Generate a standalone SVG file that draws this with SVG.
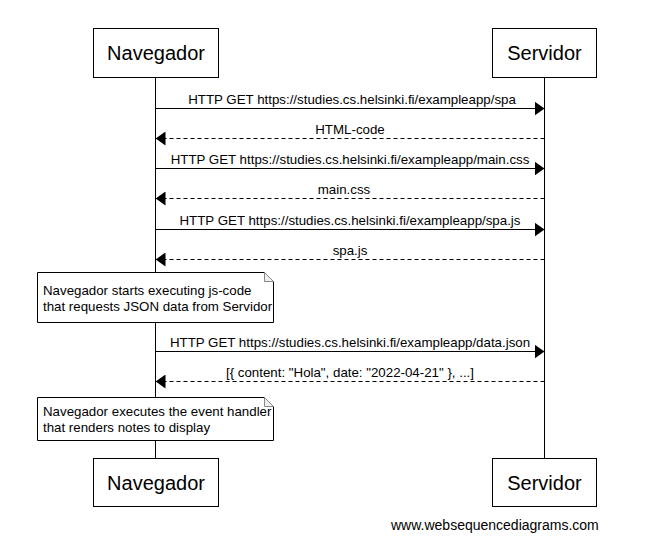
<svg xmlns="http://www.w3.org/2000/svg" width="654" height="556" viewBox="0 0 654 556">
<defs>
<style>
.box{fill:#fff;stroke:#000;stroke-width:1}
.fold{fill:#eee;stroke:#888;stroke-width:1}
.life{stroke:#000;stroke-width:1}
.msg{stroke:#000;stroke-width:1;fill:none}
.ret{stroke:#000;stroke-width:1;fill:none;stroke-dasharray:4,3}
.actor{font-family:"Liberation Sans",Arial,sans-serif;font-size:20px;text-anchor:middle;fill:#000}
.lbl{font-family:"Liberation Sans",Arial,sans-serif;font-size:13.3px;text-anchor:middle;fill:#000}
.note{font-family:"Liberation Sans",Arial,sans-serif;font-size:13.3px;fill:#000}
.foot{font-family:"Liberation Sans",Arial,sans-serif;font-size:14px;fill:#000}
</style>
<marker id="ah" markerWidth="10" markerHeight="14" refX="10" refY="7" orient="auto" markerUnits="userSpaceOnUse">
<path d="M0,0 L10,7 L0,14 Z" fill="#000"/>
</marker>
</defs>
<rect width="654" height="556" fill="#fff"/>
<g id="lifelines">
<line class="life" x1="155.5" y1="77" x2="155.5" y2="458"/>
<line class="life" x1="544.5" y1="77" x2="544.5" y2="458"/>
</g>
<g id="navegador-top"><rect class="box" x="93.5" y="28.5" width="125" height="49"/><text class="actor" x="156" y="60">Navegador</text></g>
<g id="servidor-top"><rect class="box" x="492.5" y="28.5" width="104" height="49"/><text class="actor" x="544.5" y="60">Servidor</text></g>
<g id="navegador-bottom"><rect class="box" x="93.5" y="458.5" width="125" height="48"/><text class="actor" x="156" y="490">Navegador</text></g>
<g id="servidor-bottom"><rect class="box" x="492.5" y="458.5" width="104" height="48"/><text class="actor" x="544.5" y="490">Servidor</text></g>
<g id="connectors">
<line class="msg" x1="155.5" y1="108.5" x2="544.5" y2="108.5" marker-end="url(#ah)"/>
<line class="ret" x1="544.5" y1="138.5" x2="155.5" y2="138.5" marker-end="url(#ah)"/>
<line class="msg" x1="155.5" y1="168.5" x2="544.5" y2="168.5" marker-end="url(#ah)"/>
<line class="ret" x1="544.5" y1="198.5" x2="155.5" y2="198.5" marker-end="url(#ah)"/>
<line class="msg" x1="155.5" y1="229.5" x2="544.5" y2="229.5" marker-end="url(#ah)"/>
<line class="ret" x1="544.5" y1="259.5" x2="155.5" y2="259.5" marker-end="url(#ah)"/>
<line class="msg" x1="155.5" y1="351.5" x2="544.5" y2="351.5" marker-end="url(#ah)"/>
<line class="ret" x1="544.5" y1="381.5" x2="155.5" y2="381.5" marker-end="url(#ah)"/>
</g>
<g id="labels">
<text class="lbl" x="352" y="104">HTTP GET https://studies.cs.helsinki.fi/exampleapp/spa</text>
<text class="lbl" x="350" y="134">HTML-code</text>
<text class="lbl" x="350" y="164">HTTP GET https://studies.cs.helsinki.fi/exampleapp/main.css</text>
<text class="lbl" x="344" y="194">main.css</text>
<text class="lbl" x="350" y="225">HTTP GET https://studies.cs.helsinki.fi/exampleapp/spa.js</text>
<text class="lbl" x="350" y="255">spa.js</text>
<text class="lbl" x="350" y="347">HTTP GET https://studies.cs.helsinki.fi/exampleapp/data.json</text>
<text class="lbl" x="350" y="377">[{ content: "Hola", date: "2022-04-21" }, ...]</text>
</g>
<g id="note1">
<path class="box" d="M37.5,272.5 H264.5 L273.5,281.5 V322.5 H37.5 Z"/>
<path class="fold" d="M264.5,272.5 V281.5 H273.5 Z"/>
<text class="note" x="43" y="295">Navegador starts executing js-code</text>
<text class="note" x="43" y="311">that requests JSON data from Servidor</text>
</g>
<g id="note2">
<path class="box" d="M37.5,397.5 H264.5 L273.5,406.5 V440.5 H37.5 Z"/>
<path class="fold" d="M264.5,397.5 V406.5 H273.5 Z"/>
<text class="note" x="43" y="416">Navegador executes the event handler</text>
<text class="note" x="43" y="432">that renders notes to display</text>
</g>
<text class="foot" x="391" y="530">www.websequencediagrams.com</text>
</svg>
